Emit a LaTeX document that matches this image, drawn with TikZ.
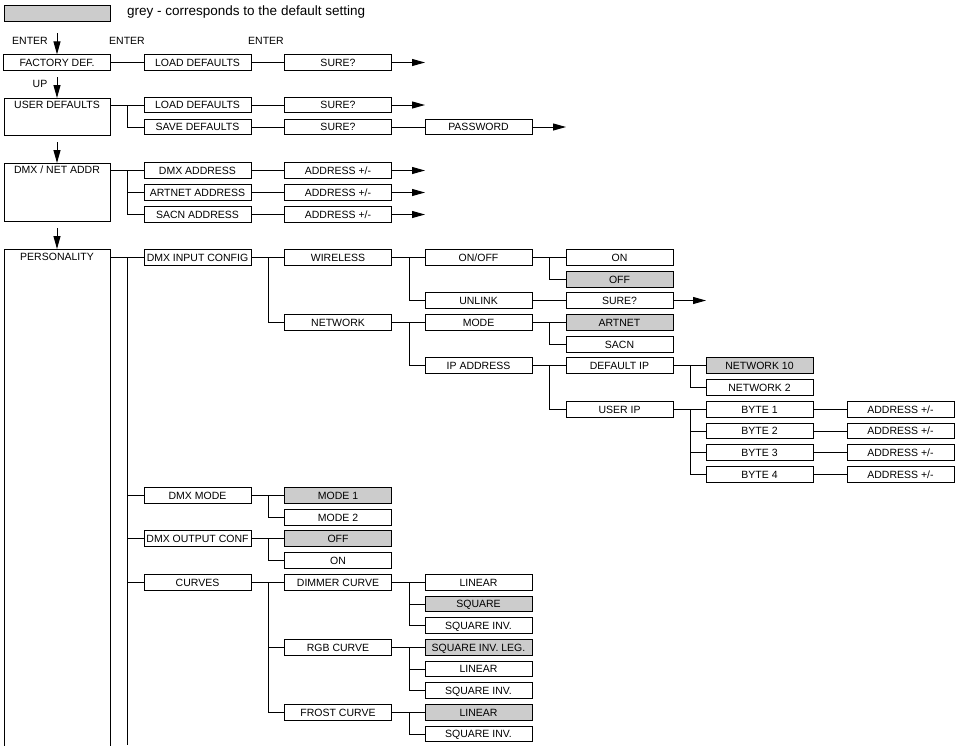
\documentclass[tikz,border=0pt]{standalone}
\usepackage{fontspec}
\setmainfont{Liberation Sans}
\usetikzlibrary{arrows.meta}
\begin{document}
\begin{tikzpicture}[x=1pt,y=-1pt,
 box/.style={draw,line width=0.7pt,minimum width=107pt,minimum height=15.5pt,inner sep=0pt,text height=7.5pt,text depth=0.5pt,font=\fontsize{10.5}{12}\selectfont},
 g/.style={box,fill=black!20},
 tall/.style={draw,line width=0.7pt,minimum width=106pt,inner sep=0pt,anchor=north},
 lab/.style={font=\fontsize{10.5}{12}\selectfont,inner sep=0pt},
 ln/.style={line width=1pt},
 ar/.style={ln,-{Triangle[length=13pt,width=7pt]}}]
\useasboundingbox (0,0) rectangle (963,745);
% legend
\node[tall,fill=black!20,minimum height=16pt] (leg) at (57,5) {};
\node[lab,anchor=west,font=\fontsize{13.5}{15}\selectfont] (legt) at (127,12) {grey - corresponds to the default setting};
% enter labels
\node[lab] (e1) at (30,41) {ENTER};
\node[lab] (e2) at (127,41) {ENTER};
\node[lab] (e3) at (266,41) {ENTER};
\node[lab] (up) at (40,84) {UP};
% column 0
\node[box] (fd) at (57,62.5) {FACTORY DEF.};
\node[tall,minimum height=37pt] (ud) at (57,98) {};
\node[lab] (udt) at (57,105) {USER DEFAULTS};
\node[tall,minimum height=58pt] (dn) at (57,163) {};
\node[lab] (dnt) at (57,170) {DMX / NET ADDR};
\node[tall,minimum height=510pt] (pe) at (57,249) {};
\node[lab] (pet) at (57,257) {PERSONALITY};
\coordinate (a1) at (57,33); \coordinate (a2) at (57,77);
\coordinate (a3) at (57,142); \coordinate (a4) at (57,228);
\draw[ar] (a1) -- (fd.north);
\draw[ar] (a2) -- (ud.north);
\draw[ar] (a3) -- (dn.north);
\draw[ar] (a4) -- (pe.north);
% rows
\node[box] (ld1) at (197.5,62.5) {LOAD DEFAULTS};
\node[box] (s1) at (338,62.5) {SURE?};
\node[box] (ld2) at (197.5,105) {LOAD DEFAULTS};
\node[box] (s2) at (338,105) {SURE?};
\node[box] (sd) at (197.5,127) {SAVE DEFAULTS};
\node[box] (s3) at (338,127) {SURE?};
\node[box] (pw) at (478.5,127) {PASSWORD};
\coordinate (t1) at (425,62.5); \coordinate (t2) at (425,105); \coordinate (t3) at (566,127);
\draw[ln] (fd) -- (ld1) -- (s1); \draw[ar] (s1) -- (t1);
\draw[ln] (ud.east |- ld2) -- (ld2) -- (s2); \draw[ar] (s2) -- (t2);
\draw[ln] (ud.east |- ld2) -- ++(17,0) |- (sd.west); \draw[ln] (sd) -- (s3) -- (pw); \draw[ar] (pw) -- (t3);
\node[box] (da) at (197.5,170.5) {DMX ADDRESS};
\node[box] (aa) at (197.5,192.5) {ARTNET ADDRESS};
\node[box] (sa) at (197.5,214.5) {SACN ADDRESS};
\node[box] (d1) at (338,170.5) {ADDRESS +/-};
\node[box] (d2) at (338,192.5) {ADDRESS +/-};
\node[box] (d3) at (338,214.5) {ADDRESS +/-};
\coordinate (u1) at (425,170.5); \coordinate (u2) at (425,192.5); \coordinate (u3) at (425,214.5);
\draw[ln] (dn.east |- da) -- (da);
\draw[ln] (dn.east |- da) -- ++(17,0) |- (aa.west);
\draw[ln] (dn.east |- da) -- ++(17,0) |- (sa.west);
\draw[ln] (da) -- (d1); \draw[ln] (aa) -- (d2); \draw[ln] (sa) -- (d3);
\draw[ar] (d1) -- (u1); \draw[ar] (d2) -- (u2); \draw[ar] (d3) -- (u3);
% personality
\node[box] (dic) at (197.5,257.5) {DMX INPUT CONFIG};
\node[box] (wl) at (338,257.5) {WIRELESS};
\node[box] (nw) at (338,322.5) {NETWORK};
\node[box] (oo) at (478.5,257.5) {ON/OFF};
\node[box] (ul) at (478.5,300.5) {UNLINK};
\node[box] (on1) at (619.5,257.5) {ON};
\node[g] (off1) at (619.5,279.5) {OFF};
\node[box] (s4) at (619.5,300.5) {SURE?};
\coordinate (t4) at (706,300.5);
\node[box] (md) at (478.5,322.5) {MODE};
\node[box] (ip) at (478.5,365.5) {IP ADDRESS};
\node[g] (art) at (619.5,322.5) {ARTNET};
\node[box] (sacn) at (619.5,344.5) {SACN};
\node[box] (dip) at (619.5,365.5) {DEFAULT IP};
\node[box] (uip) at (619.5,409.5) {USER IP};
\node[g] (n10) at (759.5,365.5) {NETWORK 10};
\node[box] (n2) at (759.5,387.5) {NETWORK 2};
\foreach \i/\y in {1/409.5,2/431,3/452.5,4/474.5}{
 \node[box] (b\i) at (759.5,\y) {BYTE \i};
 \node[box] (ba\i) at (900.5,\y) {ADDRESS +/-};
 \draw[ln] (uip.east) -- ++(17,0) |- (b\i.west);
 \draw[ln] (b\i) -- (ba\i);}
\coordinate (px) at (127,257.5);
\draw[ln] (pe.east |- dic) -- (dic);
\draw[ln] (px) -- (127,745);
\draw[ln] (dic) -- (wl); \draw[ln] (dic.east) -- ++(17,0) |- (nw.west);
\draw[ln] (wl) -- (oo); \draw[ln] (wl.east) -- ++(18,0) |- (ul.west);
\draw[ln] (oo) -- (on1); \draw[ln] (oo.east) -- ++(17,0) |- (off1.west);
\draw[ln] (ul) -- (s4); \draw[ar] (s4) -- (t4);
\draw[ln] (nw) -- (md); \draw[ln] (nw.east) -- ++(18,0) |- (ip.west);
\draw[ln] (md) -- (art); \draw[ln] (md.east) -- ++(17,0) |- (sacn.west);
\draw[ln] (ip) -- (dip); \draw[ln] (ip.east) -- ++(17,0) |- (uip.west);
\draw[ln] (dip) -- (n10); \draw[ln] (dip.east) -- ++(17,0) |- (n2.west);
% dmx mode etc
\node[box] (dm) at (197.5,495.5) {DMX MODE};
\node[g] (m1) at (338,495.5) {MODE 1};
\node[box] (m2) at (338,517.5) {MODE 2};
\node[box] (doc) at (197.5,538.5) {DMX OUTPUT CONF};
\node[g] (off2) at (338,538.5) {OFF};
\node[box] (on2) at (338,560.5) {ON};
\node[box] (cv) at (197.5,582.5) {CURVES};
\node[box] (dc) at (338,582.5) {DIMMER CURVE};
\node[box] (rc) at (338,647.5) {RGB CURVE};
\node[box] (fc) at (338,712.5) {FROST CURVE};
\node[box] (l1) at (478.5,582.5) {LINEAR};
\node[g] (q1) at (478.5,604) {SQUARE};
\node[box] (qi1) at (478.5,625.5) {SQUARE INV.};
\node[g] (ql) at (478.5,647.5) {SQUARE INV. LEG.};
\node[box] (l2) at (478.5,669) {LINEAR};
\node[box] (qi2) at (478.5,690.5) {SQUARE INV.};
\node[g] (l3) at (478.5,712.5) {LINEAR};
\node[box] (qi3) at (478.5,734) {SQUARE INV.};
\foreach \n in {dm,doc,cv}{\draw[ln] (px |- \n) -- (\n);}
\draw[ln] (dm) -- (m1); \draw[ln] (dm.east) -- ++(17,0) |- (m2.west);
\draw[ln] (doc) -- (off2); \draw[ln] (doc.east) -- ++(17,0) |- (on2.west);
\draw[ln] (cv) -- (dc); \draw[ln] (cv.east) -- ++(17,0) |- (rc.west);
\draw[ln] (cv.east) -- ++(17,0) |- (fc.west);
\draw[ln] (dc) -- (l1); \draw[ln] (dc.east) -- ++(18,0) |- (q1.west); \draw[ln] (dc.east) -- ++(18,0) |- (qi1.west);
\draw[ln] (rc) -- (ql); \draw[ln] (rc.east) -- ++(18,0) |- (l2.west); \draw[ln] (rc.east) -- ++(18,0) |- (qi2.west);
\draw[ln] (fc) -- (l3); \draw[ln] (fc.east) -- ++(18,0) |- (qi3.west);
\end{tikzpicture}
\end{document}
